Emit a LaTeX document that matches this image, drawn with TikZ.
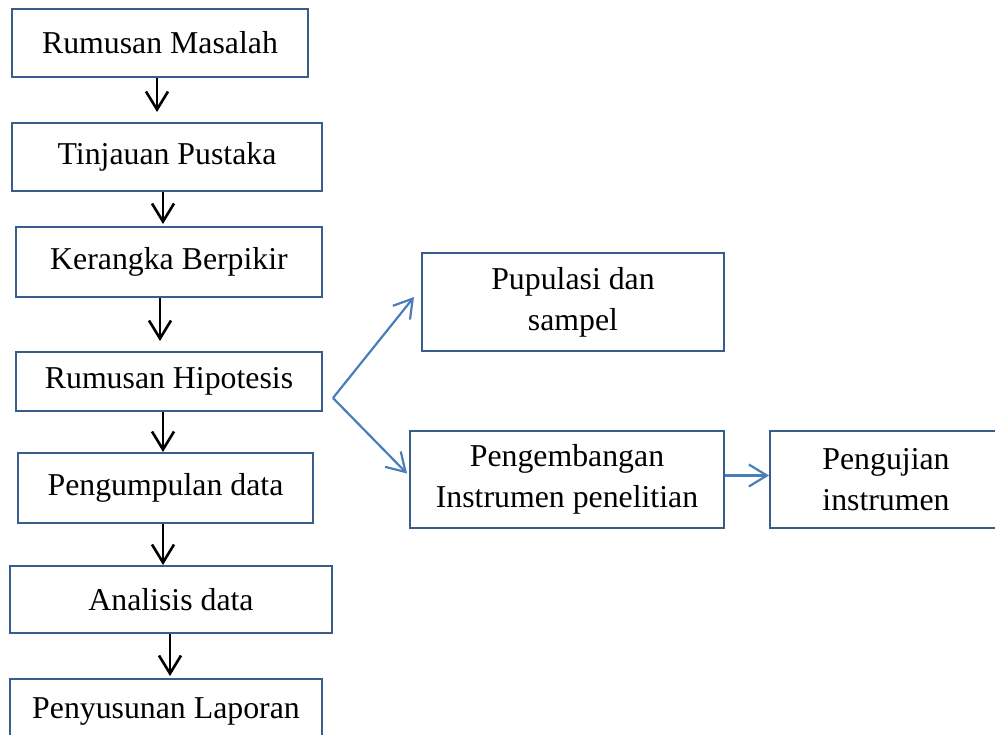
\documentclass[tikz,border=0pt]{standalone}
\usepackage{fontspec}
\setmainfont{Liberation Serif}
\usepackage{tikz}
\usetikzlibrary{arrows.meta,positioning,calc}
\definecolor{boxline}{HTML}{385D8A}
\definecolor{flowblue}{HTML}{4A7EBB}

\begin{document}
\begin{tikzpicture}[x=0.5pt, y=-0.5pt,
  stage/.style={draw=boxline, line width=1pt, align=center, inner sep=2pt,
    font=\fontsize{15.9}{20.5}\selectfont},
  down/.style={draw=black, line width=1.3pt, -{Straight Barb[length=9pt,width=11pt,line width=1.3pt]}},
  branch/.style={draw=flowblue, line width=1.1pt, -{Straight Barb[length=9pt,width=11pt,line width=1.1pt]}}]
  \useasboundingbox (0,0) rectangle (995,734);
  \clip (0,0) rectangle (995,734);
  % main column
  \node[stage, minimum width=148pt, minimum height=34pt] (masalah) at (160,43) {Rumusan Masalah};
  \node[stage, minimum width=155pt, minimum height=34pt] (pustaka) at (167,157) {Tinjauan Pustaka};
  \node[stage, minimum width=153pt, minimum height=35pt] (kerangka) at (169,262) {Kerangka Berpikir};
  \node[stage, minimum width=153pt, minimum height=29.5pt] (hipotesis) at (169,381.5) {Rumusan Hipotesis};
  \node[stage, minimum width=147.5pt, minimum height=35pt] (kumpul) at (165.5,488) {Pengumpulan data};
  \node[stage, minimum width=161pt, minimum height=33.5pt] (analisis) at (171,599.5) {Analisis data};
  \node[stage, minimum width=156pt, minimum height=33pt] (laporan) at (166,712) {Penyusunan Laporan};
  % branches
  \node[stage, minimum width=151pt, minimum height=49pt] (populasi) at (573,302) {Pupulasi dan\\sampel};
  \node[stage, minimum width=157pt, minimum height=48.5pt] (instrumen) at (567,479.5) {Pengembangan\\Instrumen penelitian};
  \node[stage, minimum width=116pt, minimum height=48.5pt] (uji) at (886,479.5) {Pengujian\\instrumen};
  \coordinate (fork) at (333,398);

  \draw[down, shorten >=5pt] ([xshift=-1.5pt]masalah.south) -- ([xshift=-1.5pt]masalah.south |- pustaka.north);
  \draw[down, shorten >=1pt] ([xshift=-2pt]pustaka.south) -- ([xshift=-2pt]pustaka.south |- kerangka.north);
  \draw[down, shorten >=5pt] ([xshift=-4.5pt]kerangka.south) -- ([xshift=-4.5pt]kerangka.south |- hipotesis.north);
  \draw[down] ([xshift=-3pt]hipotesis.south) -- ([xshift=-3pt]hipotesis.south |- kumpul.north);
  \draw[down] ([xshift=-1.25pt]kumpul.south) -- ([xshift=-1.25pt]kumpul.south |- analisis.north);
  \draw[down, shorten >=1pt] ([xshift=-0.5pt]analisis.south) -- ([xshift=-0.5pt]analisis.south |- laporan.north);

  \draw[branch] (fork) -- ([xshift=-3.5pt,yshift=2.5pt]populasi.west);
  \draw[branch] (fork) -- ([xshift=-1pt,yshift=3pt]instrumen.west);
  \draw[branch] ([yshift=2pt]instrumen.east) -- ([yshift=2pt]uji.west);
\end{tikzpicture}
\end{document}
